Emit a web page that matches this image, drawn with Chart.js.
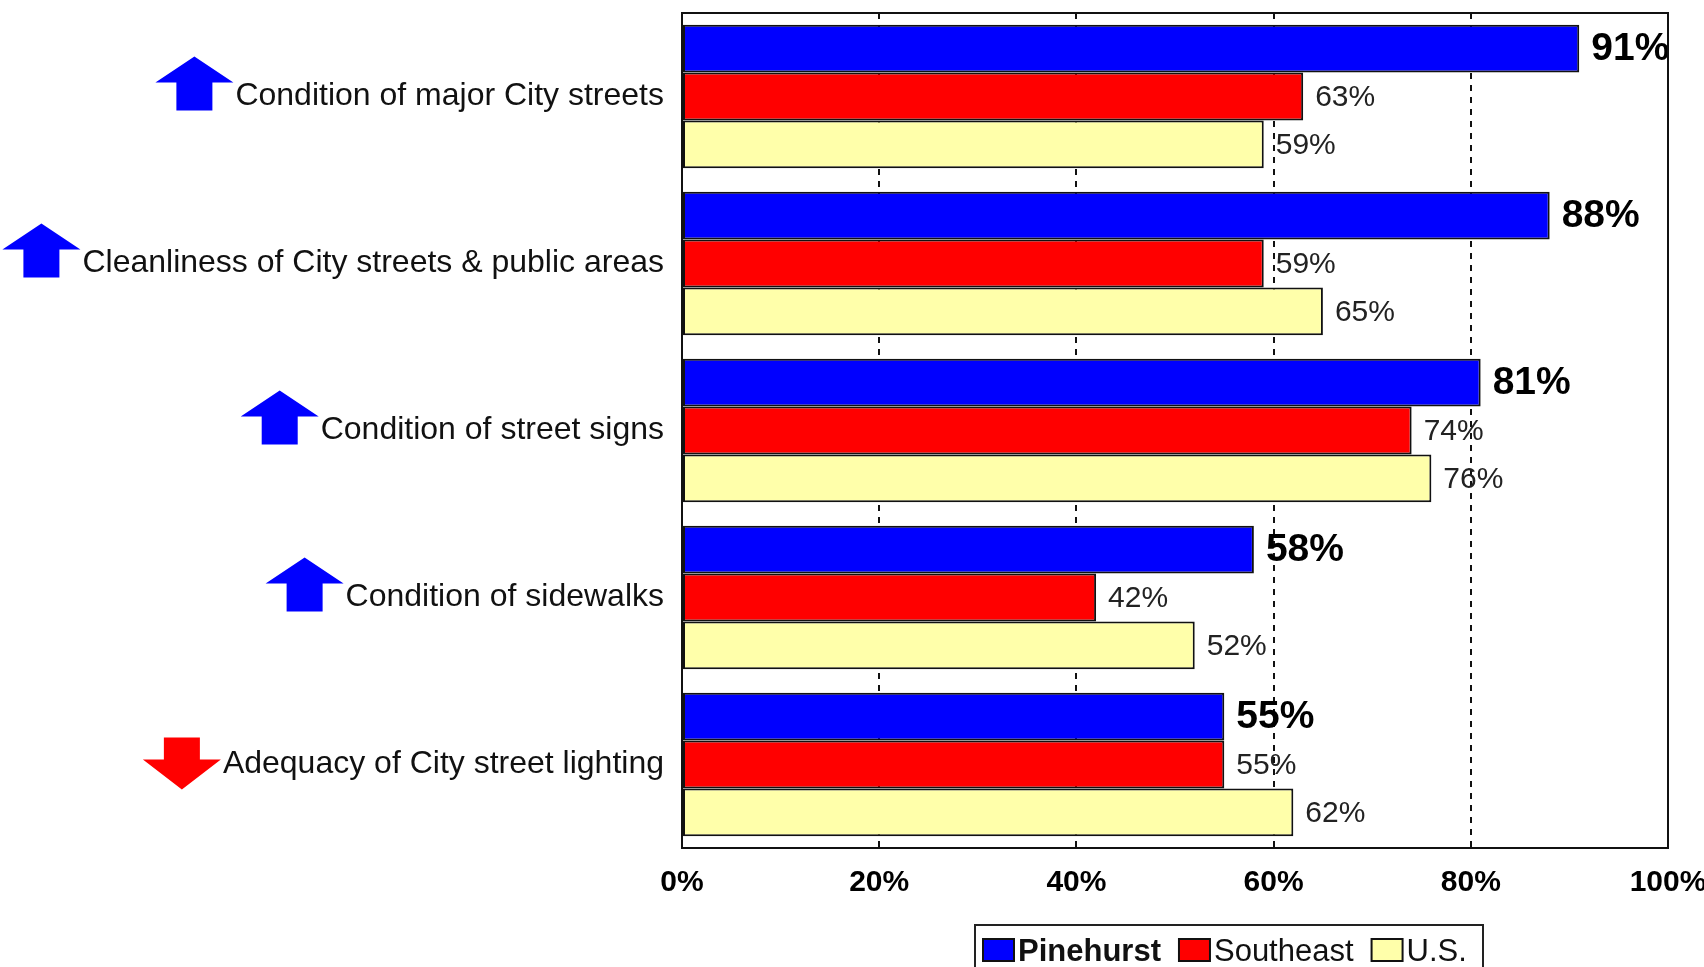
<!DOCTYPE html>
<html>
<head>
<meta charset="utf-8">
<script src="https://cdn.jsdelivr.net/npm/chart.js@4/dist/chart.umd.min.js"></script>
<style>
  body { margin: 0; background: #fff; }
</style>
</head>
<body>
<canvas id="streetsChart" width="1704" height="967"></canvas>
<script>
var categories = ["Condition of major City streets", "Cleanliness of City streets & public areas", "Condition of street signs", "Condition of sidewalks", "Adequacy of City street lighting"];
var trends = ["up", "up", "up", "up", "down"];
var pinehurst = [91, 88, 81, 58, 55];
var southeast = [63, 59, 74, 42, 55];
var us = [59, 65, 76, 52, 62];
var seriesNames = ["Pinehurst", "Southeast", "U.S."];
var barColors = ["#0000ff", "#ff0000", "#ffffaa"];
var xTicks = [0, 20, 40, 60, 80, 100];

var labelFont = "32px 'Liberation Sans', Arial, sans-serif";

// value labels at the end of each bar
var valueLabels = {
  id: "valueLabels",
  afterDatasetsDraw: function(chart) {
    var ctx = chart.ctx;
    ctx.save();
    ctx.textBaseline = "middle";
    ctx.textAlign = "left";
    chart.data.datasets.forEach(function(ds, i) {
      var meta = chart.getDatasetMeta(i);
      ctx.font = i == 0 ? "bold 39px 'Liberation Sans', Arial, sans-serif" : "30px 'Liberation Sans', Arial, sans-serif";
      ctx.fillStyle = i == 0 ? "#000" : "#222";
      meta.data.forEach(function(bar, j) {
        ctx.fillText(ds.data[j] + "%", bar.x + 12, bar.y + 1);
      });
    });
    ctx.restore();
  }
};

// frame, arrows next to categories and the boxed legend
var extras = {
  id: "extras",
  afterDraw: function(chart) {
    var ctx = chart.ctx;
    var area = chart.chartArea;
    ctx.save();
    ctx.strokeStyle = "#111";
    ctx.lineWidth = 2;
    ctx.strokeRect(area.left, area.top, area.right - area.left, area.bottom - area.top);

    var yScale = chart.scales.y;
    ctx.font = labelFont;
    categories.forEach(function(cat, j) {
      var cy = yScale.getPixelForTick(j);
      var w = ctx.measureText(cat).width;
      var right = area.left - 18 - w - 2;
      var left = right - 78;
      var mid = (left + right) / 2;
      ctx.beginPath();
      if (trends[j] == "up") {
        ctx.fillStyle = "#0000ff";
        var top = cy - 40, headBase = top + 26, bottom = cy + 14;
        ctx.moveTo(mid, top);
        ctx.lineTo(right, headBase);
        ctx.lineTo(mid + 18, headBase);
        ctx.lineTo(mid + 18, bottom);
        ctx.lineTo(mid - 18, bottom);
        ctx.lineTo(mid - 18, headBase);
        ctx.lineTo(left, headBase);
      } else {
        ctx.fillStyle = "#ff0000";
        var top2 = cy - 27, headBase2 = top2 + 22, tip = cy + 25;
        ctx.moveTo(mid - 18, top2);
        ctx.lineTo(mid + 18, top2);
        ctx.lineTo(mid + 18, headBase2);
        ctx.lineTo(right, headBase2);
        ctx.lineTo(mid, tip);
        ctx.lineTo(left, headBase2);
        ctx.lineTo(mid - 18, headBase2);
      }
      ctx.closePath();
      ctx.fill();
    });

    // legend
    ctx.fillStyle = "#fff";
    ctx.fillRect(975, 925, 508, 50);
    ctx.strokeStyle = "#222";
    ctx.lineWidth = 2;
    ctx.strokeRect(975, 925, 508, 60);
    var x = 983;
    ctx.textBaseline = "alphabetic";
    chart.data.datasets.forEach(function(ds, i) {
      ctx.fillStyle = ds.backgroundColor;
      ctx.fillRect(x, 939, 31, 22);
      ctx.strokeStyle = "#111";
      ctx.lineWidth = 2;
      ctx.strokeRect(x, 939, 31, 22);
      ctx.font = i == 0 ? "bold 31px 'Liberation Sans', Arial, sans-serif" : "31px 'Liberation Sans', Arial, sans-serif";
      ctx.fillStyle = "#111";
      ctx.fillText(ds.label, x + 35, 961);
      x = x + 35 + ctx.measureText(ds.label).width + 18;
    });
    ctx.restore();
  }
};

new Chart("streetsChart", {
  type: "bar",
  data: {
    labels: categories,
    datasets: [
      { label: seriesNames[0], data: pinehurst, backgroundColor: barColors[0] },
      { label: seriesNames[1], data: southeast, backgroundColor: barColors[1] },
      { label: seriesNames[2], data: us, backgroundColor: barColors[2] }
    ]
  },
  options: {
    indexAxis: "y",
    responsive: false,
    animation: false,
    devicePixelRatio: 1,
    layout: { padding: { top: 13, right: 36, bottom: 0, left: 0 } },
    datasets: {
      bar: {
        borderColor: "#111",
        borderWidth: 2,
        borderSkipped: false,
        categoryPercentage: 0.86,
        barPercentage: 1.0
      }
    },
    plugins: {
      legend: { display: false },
      tooltip: { enabled: false }
    },
    scales: {
      x: {
        min: xTicks[0],
        max: xTicks[xTicks.length - 1],
        afterFit: function(scale) {
          scale.height = 119;
          scale.paddingLeft = 0;
          scale.paddingRight = 0;
        },
        afterBuildTicks: function(scale) {
          scale.ticks = xTicks.map(function(v) { return { value: v }; });
        },
        ticks: {
          padding: 17,
          color: "#000",
          font: { family: "'Liberation Sans Narrow', 'Liberation Sans', Arial", size: 30, weight: "bold" },
          callback: function(v) { return v + "%"; }
        },
        grid: {
          drawTicks: false,
          lineWidth: 2,
          color: function(c) {
            return (c.tick && (c.tick.value == 0 || c.tick.value == 100)) ? "rgba(0,0,0,0)" : "#111";
          }
        },
        border: { display: false, dash: [6, 6] }
      },
      y: {
        afterFit: function(scale) {
          scale.width = 682;
          scale.paddingTop = 0;
          scale.paddingBottom = 0;
        },
        ticks: {
          padding: 18,
          color: "#111",
          font: { family: "'Liberation Sans', Arial", size: 32 }
        },
        grid: { display: false, drawTicks: false },
        border: { display: false }
      }
    }
  },
  plugins: [valueLabels, extras]
});
</script>
</body>
</html>
